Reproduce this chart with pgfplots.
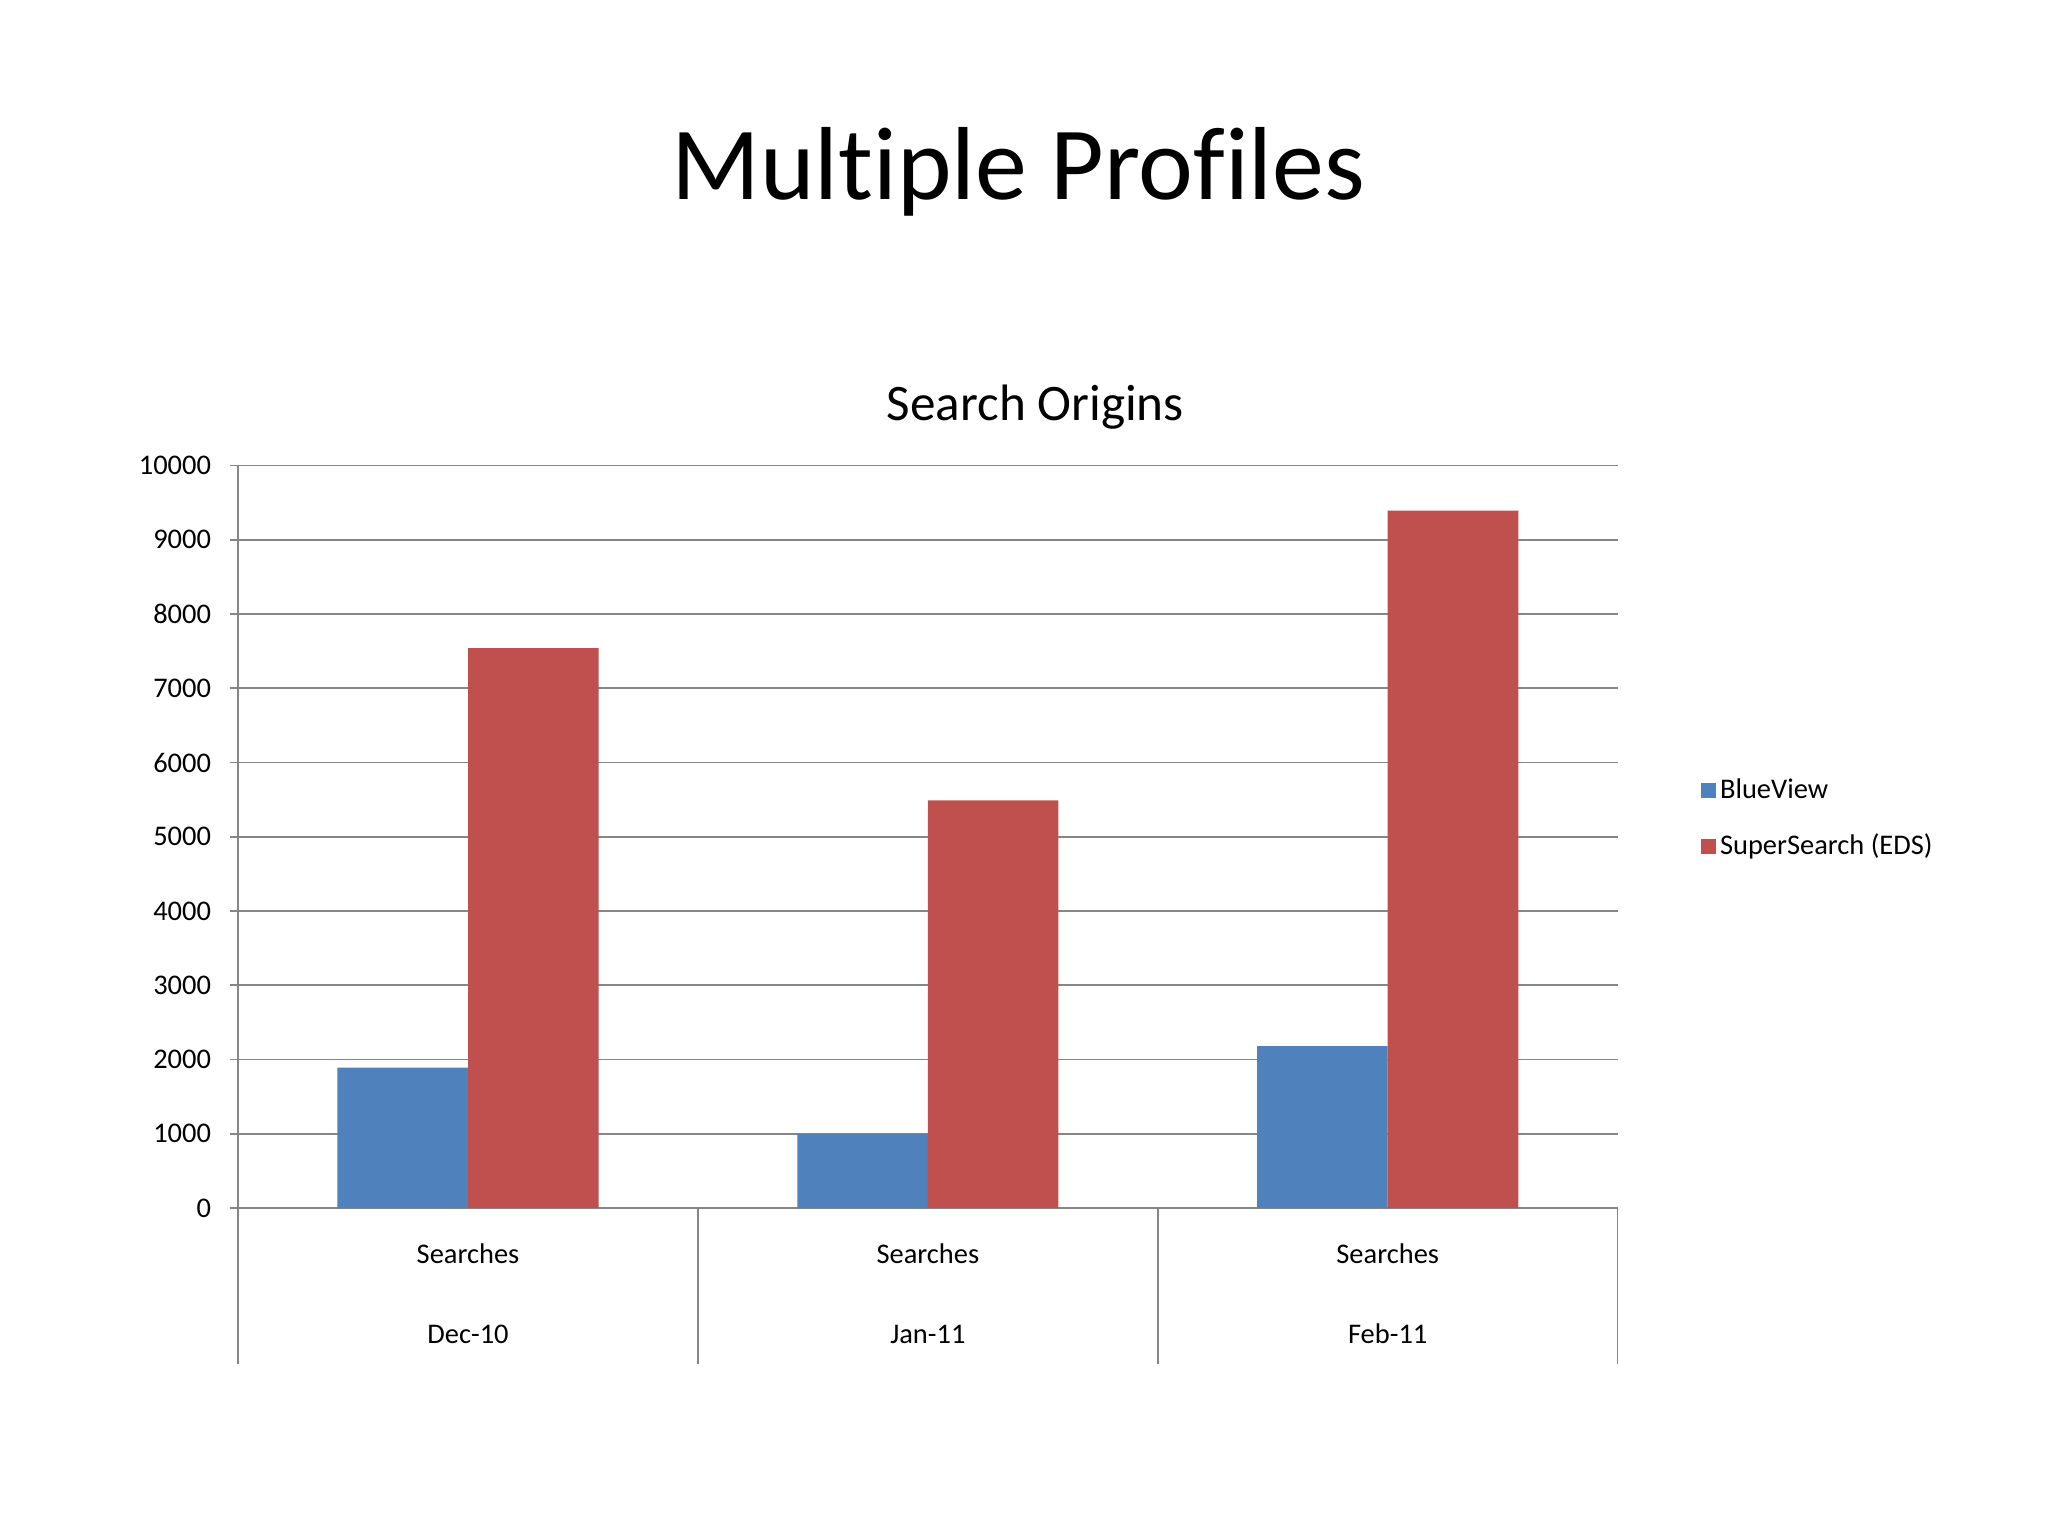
\documentclass[border=0pt]{standalone}
\usepackage{fontspec}
\setmainfont{Carlito}[Ligatures=NoCommon]
\usepackage{pgfplots}
\pgfplotsset{compat=1.18}
\definecolor{barblue}{HTML}{4F81BD}
\definecolor{barred}{HTML}{C0504D}
\definecolor{axisgray}{HTML}{868686}

\begin{document}
\begin{tikzpicture}
  % slide-sized canvas
  \path[fill=white] (0,0) rectangle (720pt,540pt);
  \node[anchor=base, font=\fontsize{36.5}{44}\selectfont] at (358pt,470pt) {Multiple Profiles};
  \node[anchor=base, font=\fontsize{18}{22}\selectfont] at (364pt,392.3pt) {Search Origins};
  \begin{axis}[
    at={(83.7pt,115.3pt)}, anchor=south west,
    scale only axis,
    width=485pt, height=261pt,
    ybar=0pt, bar width=0.284,
    xmin=-0.5, xmax=2.5,
    ymin=0, ymax=10000,
    ytick distance=1000,
    xtick={0,1,2},
    xticklabels={{Searches\\[16pt]Dec-10},{Searches\\[16pt]Jan-11},{Searches\\[16pt]Feb-11}},
    xticklabel style={align=center, yshift=-6pt},
    xtick style={draw=none},
    ytick style={draw=axisgray, line width=0.6pt},
    tick align=outside,
    major tick length=3pt,
    xtick pos=lower, ytick pos=left,
    axis x line*=bottom, axis y line*=left,
    axis line style={draw=axisgray, line width=0.6pt, -},
    ymajorgrids,
    grid style={draw=axisgray, line width=0.6pt},
    tick label style={font=\fontsize{10}{12}\selectfont},
    /pgf/number format/assume math mode=true,
    /pgf/number format/1000 sep={},
    scaled y ticks=false,
    yticklabel style={xshift=-3pt},
    clip=false,
    legend style={
      at={(1.06,0.524)}, anchor=west,
      draw=none, inner sep=0pt,
      font=\fontsize{10}{12}\selectfont,
      row sep=8pt,
      nodes={inner sep=1.5pt},
    },
    legend cell align=left,
    legend image code/.code={\fill[#1] (0pt,-2.6pt) rectangle (5.2pt,2.6pt);},
  ]
    \addplot[fill=barblue, draw=none] coordinates {(0,1890) (1,1000) (2,2180)};
    \addplot[fill=barred, draw=none] coordinates {(0,7540) (1,5490) (2,9395)};
    \legend{BlueView, SuperSearch (EDS)}
    \pgfplotsinvokeforeach{-0.5,0.5,1.5,2.5}{
      \draw[axisgray, line width=0.6pt] (axis cs:#1,0) -- ++(0pt,-55pt);
    }
  \end{axis}
\end{tikzpicture}
\end{document}
